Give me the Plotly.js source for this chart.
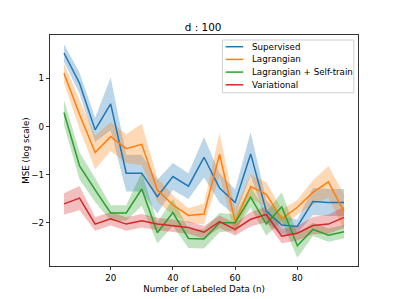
<!DOCTYPE html>
<html>
<head>
<meta charset="utf-8">
<script src="https://cdn.plot.ly/plotly-3.0.1.min.js"></script>
<style>html,body{margin:0;padding:0;background:#fff;}#chart{width:399px;height:299px;}</style>
</head>
<body>
<div id="chart"></div>
<script>
const nLabeled = [5,10,15,20,25,30,35,40,45,50,55,60,65,70,75,80,85,90,95];

const supervised    = [1.53,0.90,-0.07,0.47,-0.97,-0.97,-1.46,-1.04,-1.24,-0.64,-1.28,-1.58,-0.57,-1.76,-2.05,-2.08,-1.56,-1.58,-1.58];
const supervisedErr = [0.18,0.22,0.25,0.55,0.38,0.38,0.35,0.28,0.27,0.42,0.30,0.27,0.45,0.23,0.19,0.14,0.28,0.28,0.28];

const lagrangian    = [1.11,0.25,-0.54,-0.21,-0.46,-0.37,-1.32,-1.63,-1.85,-1.82,-0.58,-1.98,-1.25,-1.41,-1.92,-1.68,-1.37,-1.15,-1.77];
const lagrangianErr = [0.20,0.30,0.35,0.30,0.30,0.43,0.25,0.20,0.15,0.22,0.45,0.27,0.25,0.25,0.20,0.15,0.25,0.33,0.36];

const selfTrain     = [0.29,-0.82,-1.32,-1.80,-1.80,-1.30,-2.21,-1.79,-2.33,-2.34,-2.00,-2.00,-1.47,-2.03,-1.67,-2.48,-2.14,-2.26,-2.19];
const selfTrainErr  = [0.26,0.28,0.25,0.16,0.16,0.35,0.22,0.28,0.20,0.20,0.20,0.17,0.22,0.24,0.30,0.25,0.14,0.14,0.14];

const variational    = [-1.61,-1.49,-2.03,-1.92,-2.03,-1.96,-2.03,-2.06,-2.10,-2.20,-1.98,-2.14,-1.93,-1.83,-2.28,-2.22,-2.06,-2.03,-1.89];
const variationalErr = [0.22,0.25,0.14,0.14,0.14,0.14,0.13,0.13,0.13,0.13,0.13,0.13,0.15,0.16,0.15,0.15,0.18,0.20,0.22];

const seriesNames = ["Supervised","Lagrangian","Lagrangian + Self-train","Variational"];
const colors = ["#1f77b4","#ff7f0e","#2ca02c","#d62728"];
const fills  = ["rgba(31,119,180,0.3)","rgba(255,127,14,0.3)","rgba(44,160,44,0.3)","rgba(214,39,40,0.3)"];
const means = [supervised, lagrangian, selfTrain, variational];
const errs  = [supervisedErr, lagrangianErr, selfTrainErr, variationalErr];

const traces = [];
means.forEach((m, i) => {
  const up = m.map((v, k) => v + errs[i][k]);
  const lo = m.map((v, k) => v - errs[i][k]);
  traces.push({
    x: nLabeled.concat(nLabeled.slice().reverse()),
    y: up.concat(lo.slice().reverse()),
    type: "scatter", mode: "lines", fill: "toself",
    fillcolor: fills[i], line: {width: 0, color: "rgba(0,0,0,0)"},
    showlegend: false, hoverinfo: "skip"
  });
});
means.forEach((m, i) => {
  traces.push({
    x: nLabeled, y: m, type: "scatter", mode: "lines",
    name: seriesNames[i], line: {color: colors[i], width: 1.5}, showlegend: false
  });
});

const font = {family: "DejaVu Sans, sans-serif", size: 8.7, color: "#000"};
const axisCommon = {
  showline: true, mirror: true, linecolor: "#000", linewidth: 0.8,
  ticks: "outside", ticklen: 3.5, tickwidth: 0.8, tickcolor: "#000",
  showgrid: false, zeroline: false, tickfont: font
};

// Matplotlib-style legend built from paper-coordinate shapes and annotations
const L = 50, W = 308.5, B = 266, H = 231;
const px = v => (v - L) / W;
const py = v => (B - v) / H;
const shapes = [{
  type: "rect", xref: "paper", yref: "paper",
  x0: px(222.7), x1: px(354.3), y0: py(92.7), y1: py(40),
  line: {color: "#d0d0d0", width: 1}, fillcolor: "rgba(255,255,255,0.8)", layer: "above"
}];
const annotations = [];
const rowY = [46.7, 59.4, 72.1, 84.8];
seriesNames.forEach((n, i) => {
  shapes.push({
    type: "line", xref: "paper", yref: "paper",
    x0: px(226), x1: px(243.5), y0: py(rowY[i]), y1: py(rowY[i]),
    line: {color: colors[i], width: 1.5}, layer: "above"
  });
  annotations.push({
    xref: "paper", yref: "paper", x: px(250.5), y: py(rowY[i]),
    xanchor: "left", yanchor: "middle", text: n, showarrow: false, font: font
  });
});

const layout = {
  width: 399, height: 299,
  margin: {l: 50, r: 40.5, t: 35, b: 33, pad: 0},
  paper_bgcolor: "#fff", plot_bgcolor: "#fff",
  font: font,
  title: {text: "d : 100", font: {family: "DejaVu Sans, sans-serif", size: 10.4, color: "#000"},
          x: 0.509, xanchor: "center", xref: "container", yref: "paper", y: 1, yanchor: "bottom", pad: {b: 4}},
  xaxis: Object.assign({}, axisCommon, {
    range: [0.5, 99.5], tickvals: [20,40,60,80], ticktext: ["20","40","60","80"],
    title: {text: "Number of Labeled Data (n)", font: font, standoff: 4}
  }),
  yaxis: Object.assign({}, axisCommon, {
    range: [-2.902, 1.904], tickvals: [-2,-1,0,1],
    title: {text: "MSE (log scale)", font: font, standoff: 0}
  }),
  shapes: shapes,
  annotations: annotations,
  showlegend: false
};

Plotly.newPlot("chart", traces, layout, {staticPlot: true, displayModeBar: false});
</script>
</body>
</html>
